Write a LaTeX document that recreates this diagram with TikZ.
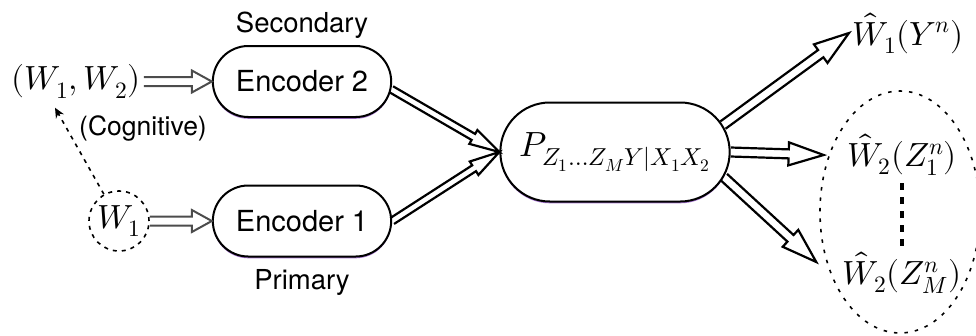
\documentclass[tikz,border=0pt]{standalone}
\usepackage{amsmath}
\usepackage{fontspec}
\usepackage{unicode-math}
\setmathfont{Latin Modern Math}
\usepackage{tikz}
\usetikzlibrary{positioning,calc,shapes.misc,shapes.geometric,shadows,arrows.meta}
\newfontfamily\hv{TeX Gyre Heros}
\tikzset{
  box/.style={rounded rectangle,draw,line width=2pt,fill=white,
    minimum width=185pt,minimum height=71pt,font=\hv\fontsize{29}{32}\selectfont,
    drop shadow={shadow xshift=0pt,shadow yshift=-1.8pt,fill=violet!70!blue,opacity=.55}},
  tag/.style={font=\hv\fontsize{27.5}{30}\selectfont},
  dots/.style={line width=1.6pt,dash pattern=on 4pt off 5pt},
  hollow/.style n args={3}{to path={
      ($(\tikztotarget)!#1!(\tikztostart)$) coordinate (hb)
      ($(\tikztostart)!#2!90:(\tikztotarget)$) -- ($(hb)!#2!90:(\tikztotarget)$)
      -- ($(hb)!#3!90:(\tikztotarget)$) -- (\tikztotarget)
      -- ($(hb)!#3!-90:(\tikztotarget)$) -- ($(hb)!#2!-90:(\tikztotarget)$)
      -- ($(\tikztostart)!#2!-90:(\tikztotarget)$)}},
  feed/.style={draw=black!70,line width=2pt},
  link/.style={draw=black,line width=2.2pt}
}
\begin{document}
\begin{tikzpicture}[node distance=60pt,on grid,font=\fontsize{33.5}{38}\selectfont]
\useasboundingbox (0,0) rectangle (976pt,-335pt);
\node[box] (enc2) at (302pt,-81.5pt) {Encoder 2};
\node[box,below=139.5pt of enc2] (enc1) {Encoder 1};
\node[tag,above=56.5pt of enc2] (sec) {Secondary};
\node[tag,below=61pt of enc1] (prim) {Primary};
\node[left=226pt of enc2] (in2) {$(W_1,W_2)$};
\node[circle,draw,dots,minimum size=60pt,inner sep=0pt,left=183pt of enc1] (w1) {$W_1$};
\node[tag,font=\hv\fontsize{26.5}{30}\selectfont,above right=93pt and 24pt of w1] (cog) {(Cognitive)};
\node[box,minimum width=236pt,minimum height=99pt,font=\fontsize{35}{40}\selectfont,
  below right=70.5pt and 313pt of enc2] (chan) {$P_{Z_1\ldots Z_MY|X_1X_2}$};
\node[below right=3pt and 287pt of chan] (out2) {$\hat{W}_2(Z_1^n)$};
\node[above right=122pt and 6pt of out2] (out1) {$\hat{W}_1(Y^n)$};
\node[below=118pt of out2] (out3) {$\hat{W}_2(Z_M^n)$};
\node[ellipse,draw,dots,dash pattern=on 3.5pt off 7pt,minimum width=160pt,minimum height=242pt,
  below right=57pt and -2pt of out2] (grp) {};
% inputs
\draw[feed] (in2.east) to[hollow={20pt}{4.5pt}{11pt}] (enc2.west);
\draw[feed] (w1.east) to[hollow={20pt}{4.5pt}{11pt}] (enc1.west);
\draw[dots,-{Stealth[length=10pt,width=9pt]}] (w1) -- ([xshift=-21pt,yshift=-6pt]in2.south);
% channel
\draw[link] (enc2.-5) to[hollow={30pt}{3.5pt}{8pt}] (chan.west);
\draw[link] (enc1.east) to[hollow={30pt}{3.5pt}{8pt}] (chan.west);
\draw[link] (chan.14) to[hollow={35pt}{4.5pt}{11.5pt}] (out1.west);
\draw[link] (chan.east) to[hollow={35pt}{4.5pt}{11.5pt}] ([xshift=-20pt]out2.west);
\draw[link] (chan.-13) to[hollow={35pt}{4.5pt}{11.5pt}] ([xshift=-23pt,yshift=11pt]out3.west);
\draw[line width=3.5pt,dash pattern=on 7pt off 7pt,shorten <=28pt,shorten >=25pt]
  (out2.center) -- (out3.center);
\end{tikzpicture}
\end{document}
